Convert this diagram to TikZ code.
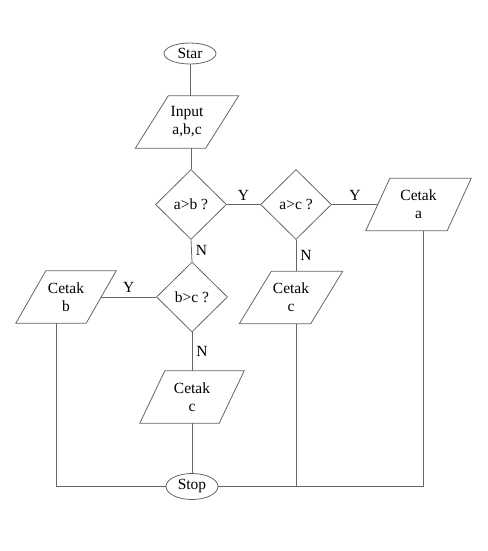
\documentclass[tikz,border=0pt]{standalone}
\usepackage{fontspec}
\setmainfont{Liberation Serif}
\usetikzlibrary{shapes.geometric}

% Input/output box: an invisible node carrying the text, outlined as a
% parallelogram whose top edge is shifted right by the given slant.
% #1 name, #2 centre, #3 edge width, #4 slant, #5 text
\newcommand{\ionode}[5]{%
  \node[iotext, minimum width=#3] (#1) at (#2) {#5};
  \draw[flow] ([xshift=#4/2]#1.north west) -- ([xshift=#4/2]#1.north east)
    -- ([xshift=-#4/2]#1.south east) -- ([xshift=-#4/2]#1.south west) -- cycle;}

\begin{document}
\begin{tikzpicture}[x=1pt,y=-1pt,
  font=\fontsize{15.5}{18}\selectfont,
  flow/.style={draw=black!60, line width=0.8pt},
  term/.style={flow, ellipse, inner sep=0pt, minimum width=52pt},
  decision/.style={flow, diamond, aspect=1, inner sep=1pt,
                   minimum width=71pt, minimum height=70pt},
  iotext/.style={align=center, inner sep=0pt, minimum height=52pt},
  lbl/.style={inner sep=4pt}]

\useasboundingbox (0,0) rectangle (487,551);

% shapes
\node[term, minimum height=21pt] (star) at (190,53.5) {Star};
\ionode{input}{187,122}{70pt}{33pt}{Input\\a,b,c}
\node[decision] (ab) at (191,204.5) {a>b ?};
\node[decision] (ac) at (296,204.5) {a>c ?};
\ionode{pa}{418.5,204.5}{81pt}{24pt}{Cetak\\a}
\ionode{pc1}{291,297.5}{71pt}{32pt}{Cetak\\c}
\node[decision] (bc) at (192,297) {b>c ?};
\ionode{pb}{66,297}{70pt}{30pt}{Cetak\\b}
\ionode{pc2}{192,397}{79pt}{25pt}{Cetak\\c}
\node[term, minimum height=26pt] (stop) at (192,486.5) {Stop};

% connectors
\draw[flow] (star.south) -- (star.south |- input.north);
\draw[flow] (input.south -| ab.north) -- (ab.north);
\draw[flow] (ab.east) -- node[lbl, above] {Y} (ac.west);
\draw[flow] (ac.east) -- node[lbl, above] {Y} (pa.west);
\draw[flow] (ab.south) -- node[lbl, right] {N} (bc.north);
\draw[flow] (ac.south) -- node[lbl, right] {N} (ac.south |- pc1.north);
\draw[flow] (bc.west) -- node[lbl, above] {Y} (pb.east);
\draw[flow] (bc.south) -- node[lbl, right] {N} (bc.south |- pc2.north);

% paths into Stop
\draw[flow] (pc2.south) -- (stop.north);
\draw[flow] ([xshift=-10pt]pb.south) |- (stop.west);
\draw[flow] ([xshift=4.5pt]pa.south) |- (stop.east);
\draw[flow] (pc1.south -| ac.south) -- (ac.south |- stop.east);

\end{tikzpicture}
\end{document}
